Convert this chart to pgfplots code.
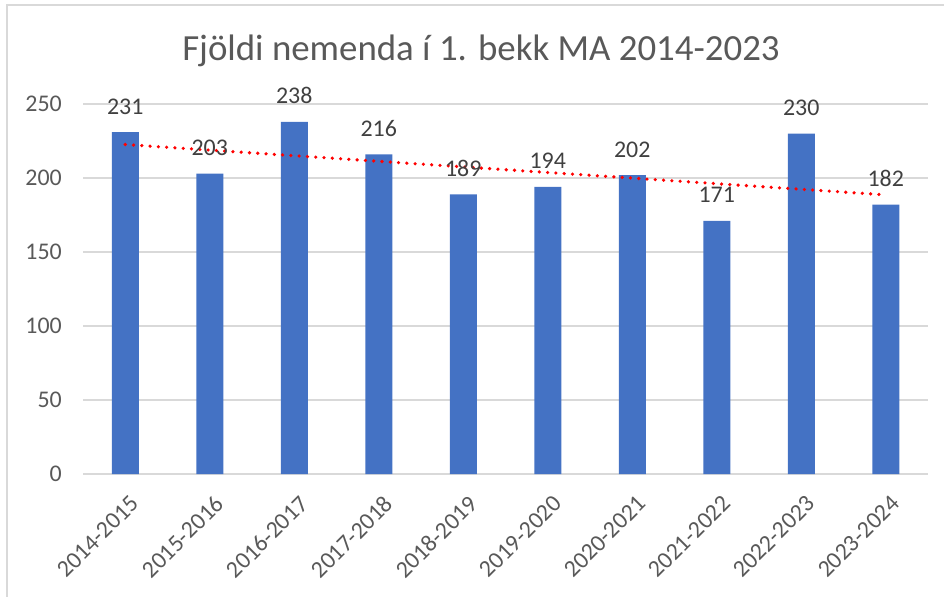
\documentclass[border=0pt]{standalone}
\usepackage{pgfplots}
\usepackage{pgfplotstable}
\pgfplotsset{compat=1.18}
\usepackage{fontspec}
\setmainfont{Carlito}
\definecolor{barblue}{HTML}{4472C4}
\definecolor{gridgray}{HTML}{D9D9D9}
\definecolor{tickgray}{HTML}{595959}
\definecolor{labelgray}{HTML}{404040}
\pgfplotstableread{
x y
1 231
2 203
3 238
4 216
5 189
6 194
7 202
8 171
9 230
10 182
}\data
\begin{document}
\begin{tikzpicture}
\path[use as bounding box] (0,0) rectangle (944bp,597bp);
\draw[gridgray, line width=1.5bp] (7bp,0) -- (7bp,592bp) -- (944bp,592bp);
\node[font=\fontsize{37}{42}\selectfont, text=tickgray, anchor=base] at (481bp,536bp) {Fjöldi nemenda í 1. bekk MA 2014-2023};
\begin{axis}[
  at={(83bp,123bp)}, anchor=south west,
  scale only axis, width=845bp, height=370bp,
  xmin=0.5, xmax=10.5, ymin=0, ymax=250,
  ytick={0,50,...,250},
  xtick={1,...,10},
  xticklabels={2014-2015,2015-2016,2016-2017,2017-2018,2018-2019,2019-2020,2020-2021,2021-2022,2022-2023,2023-2024},
  ymajorgrids, major grid style={gridgray, line width=1.5bp},
  axis line style={draw=none},
  major tick length=0pt,
  /pgf/number format/assume math mode=true,
  yticklabel style={font=\fontsize{24}{28}\selectfont, text=tickgray, anchor=east, inner sep=0pt, xshift=-21bp},
  xticklabel style={font=\fontsize{24}{28}\selectfont, text=tickgray, inner sep=0pt, xshift=4bp, yshift=-20bp, rotate=45, anchor=north east},
  clip=false,
]
\addplot[ybar, bar width=27bp, fill=barblue, draw=none,
  nodes near coords,
  nodes near coords style={font=\fontsize{24}{28}\selectfont, text=labelgray, anchor=base, inner sep=0pt, yshift=18bp}]
  table[x=x, y=y] {\data};
\addplot[red, line width=3.6bp, dash pattern=on 0bp off 8.3bp, line cap=round]
  table[x=x, y={create col/linear regression={y=y}}] {\data};
\end{axis}
\end{tikzpicture}
\end{document}
